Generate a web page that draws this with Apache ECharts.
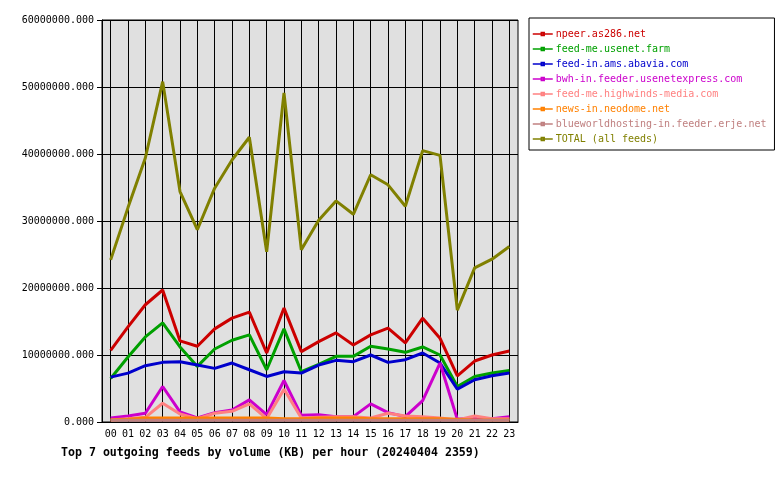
<!DOCTYPE html>
<html>
<head>
<meta charset="utf-8">
<script src="https://cdn.jsdelivr.net/npm/echarts@6/dist/echarts.min.js"></script>
<style>html,body{margin:0;padding:0;background:#fff}#c{width:780px;height:480px}</style>
</head>
<body>
<div id="c"></div>
<script>
// Values in millions of KB
const hours = ['00','01','02','03','04','05','06','07','08','09','10','11','12','13','14','15','16','17','18','19','20','21','22','23'];
const yTicks = [0, 10000000, 20000000, 30000000, 40000000, 50000000, 60000000];
const names = ['npeer.as286.net','feed-me.usenet.farm','feed-in.ams.abavia.com','bwh-in.feeder.usenetexpress.com','feed-me.highwinds-media.com','news-in.neodome.net','blueworldhosting-in.feeder.erje.net','TOTAL (all feeds)'];
const colors = ['#cc0000','#00a000','#0000cc','#cc00cc','#ff8080','#ff8000','#c08080','#808000'];
const npeer = [10.7,14.2,17.5,19.7,12.1,11.3,13.9,15.5,16.4,10.3,17.0,10.5,12.0,13.3,11.5,13.0,14.0,11.8,15.5,12.5,6.9,9.1,10.0,10.6];
const usenetFarm = [6.5,9.7,12.7,14.8,11.2,8.3,10.9,12.2,13.0,7.8,13.9,7.5,8.6,9.8,9.8,11.3,10.9,10.4,11.2,10.0,5.3,6.8,7.3,7.7];
const abavia = [6.7,7.3,8.4,8.9,9.0,8.5,8.0,8.8,7.8,6.8,7.5,7.3,8.5,9.2,9.0,10.0,8.9,9.3,10.3,8.8,4.9,6.3,6.9,7.3];
const bwh = [0.6,0.9,1.3,5.3,1.5,0.6,1.4,1.8,3.3,1.1,6.2,1.0,1.1,0.8,0.8,2.7,1.4,0.8,3.2,8.8,0.4,0.6,0.5,0.8];
const highwinds = [0.3,0.5,0.7,2.8,1.2,0.5,1.3,1.6,2.7,0.5,4.9,0.6,0.7,0.8,0.8,0.6,1.3,0.9,0.8,0.6,0.3,0.9,0.5,0.5];
const neodome = [0.3,0.4,0.6,0.6,0.6,0.6,0.6,0.6,0.6,0.6,0.5,0.5,0.6,0.6,0.6,0.5,0.5,0.5,0.5,0.5,0.4,0.3,0.3,0.3];
const blueworld = [0.25,0.25,0.25,0.25,0.25,0.25,0.25,0.25,0.25,0.25,0.25,0.25,0.25,0.25,0.25,0.25,0.25,0.25,0.25,0.25,0.25,0.25,0.25,0.25];
const total = [24.2,32.0,39.4,50.8,34.4,28.7,34.9,39.1,42.5,25.4,49.1,25.7,30.1,33.0,31.0,36.9,35.4,32.2,40.5,39.8,16.7,23.0,24.3,26.2];
const seriesValues = [npeer, usenetFarm, abavia, bwh, highwinds, neodome, blueworld, total];

const MONO = '"DejaVu Sans Mono", "Liberation Mono", monospace';
const chart = echarts.init(document.getElementById('c'), null, {renderer: 'canvas'});
chart.setOption({
  animation: false,
  backgroundColor: '#ffffff',
  title: {
    text: 'Top 7 outgoing feeds by volume (KB) per hour (20240404 2359)',
    left: 56, top: 442,
    textStyle: {fontFamily: MONO, fontSize: 11.6, fontWeight: 'bold', color: '#000'}
  },
  legend: {
    orient: 'vertical',
    left: 529, top: 18,
    padding: [10, 8, 5, 3],
    itemGap: 3,
    itemWidth: 20, itemHeight: 3,
    borderColor: '#000', borderWidth: 1,
    lineStyle: {width: 1.5},
    textStyle: {fontFamily: MONO, fontSize: 10, lineHeight: 12, padding: [0,0,0,-2]},
    data: names.map((n, i) => ({name: n, textStyle: {color: colors[i]}}))
  },
  grid: {
    left: 102, right: 262, top: 20, bottom: 58,
    show: true, backgroundColor: '#e0e0e0', borderColor: '#000', borderWidth: 1,
    containLabel: false
  },
  xAxis: {
    type: 'category',
    data: hours,
    boundaryGap: true,
    axisLine: {lineStyle: {color: '#000', width: 1}},
    axisTick: {alignWithLabel: true, length: 5, lineStyle: {color: '#000'}},
    axisLabel: {fontFamily: MONO, fontSize: 10, color: '#000', margin: 7, interval: 0},
    splitLine: {show: true, alignWithLabel: true, lineStyle: {color: '#000', width: 1}}
  },
  yAxis: {
    type: 'value',
    min: yTicks[0], max: yTicks[yTicks.length - 1], interval: yTicks[1] - yTicks[0],
    axisLine: {show: true, lineStyle: {color: '#000'}},
    axisTick: {show: true, length: 5, lineStyle: {color: '#000'}},
    axisLabel: {fontFamily: MONO, fontSize: 10, color: '#000', margin: 8,
      formatter: v => v.toFixed(3)},
    splitLine: {show: true, lineStyle: {color: '#000', width: 1}}
  },
  series: names.map((n, i) => ({
    name: n,
    type: 'line',
    data: seriesValues[i].map(v => Math.round(v * 1000000)),
    color: colors[i],
    symbol: 'emptyRect',
    symbolSize: 3,
    showSymbol: false,
    lineStyle: {width: 3, color: colors[i]},
    itemStyle: {color: colors[i]},
    silent: true
  }))
});
</script>
</body>
</html>
